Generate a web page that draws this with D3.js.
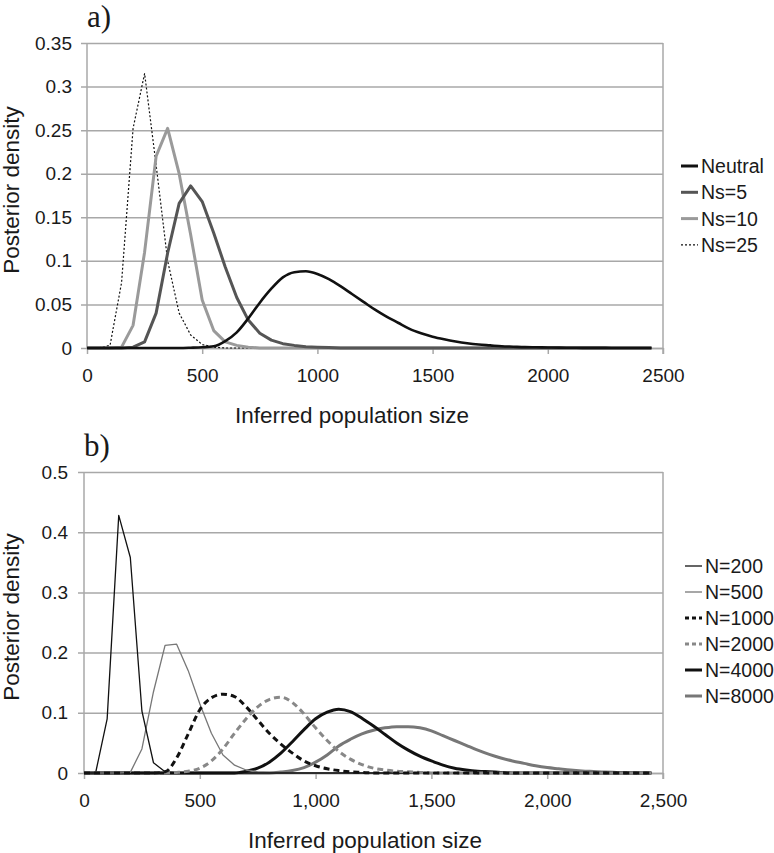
<!DOCTYPE html>
<html>
<head>
<meta charset="utf-8">
<script src="https://cdn.jsdelivr.net/npm/d3@7"></script>
<style>
  body { margin: 0; background: #fff; }
  svg { display: block; }
  text { font-family: "Liberation Sans", Arial, sans-serif; fill: #1a1a1a; }
</style>
</head>
<body>
<svg id="chart" width="774" height="853"></svg>
<script>
// ---------- DATA ----------
const xValues = [0,50,100,150,200,250,300,350,400,450,
  500,550,600,650,700,750,800,850,900,950,
  1000,1050,1100,1150,1200,1250,1300,1350,1400,1450,
  1500,1550,1600,1650,1700,1750,1800,1850,1900,1950,
  2000,2050,2100,2150,2200,2250,2300,2350,2400,2450];

// Panel a
const seriesNamesA = ["Neutral", "Ns=5", "Ns=10", "Ns=25"];
const neutral = [0,0,0,0,0,0,0,0,0,0.0003,
  0.0008,0.002,0.008,0.018,0.034,0.052,0.068,0.081,0.087,0.088,
  0.085,0.079,0.071,0.062,0.053,0.044,0.036,0.029,0.022,0.017,
  0.013,0.010,0.0075,0.0055,0.004,0.003,0.002,0.0015,0.001,0.0008,
  0.0006,0.0004,0.0003,0.0002,0.0001,0.0001,0,0,0,0];
const ns5 = [0,0,0,0,0.001,0.007,0.04,0.109,0.166,0.186,
  0.168,0.132,0.093,0.058,0.032,0.017,0.009,0.005,0.003,0.0015,
  0.001,0.0005,0,0,0,0,0,0,0,0,
  0,0,0,0,0,0,0,0,0,0,
  0,0,0,0,0,0,0,0,0,0];
const ns10 = [0,0,0,0.001,0.026,0.11,0.22,0.252,0.2,0.13,
  0.055,0.02,0.007,0.003,0.001,0,0,0,0,0,
  0,0,0,0,0,0,0,0,0,0,
  0,0,0,0,0,0,0,0,0,0,
  0,0,0,0,0,0,0,0,0,0];
const ns25 = [0,0,0.003,0.075,0.252,0.315,0.21,0.1,0.04,0.015,
  0.004,0.001,0,0,0,0,0,0,0,0,
  0,0,0,0,0,0,0,0,0,0,
  0,0,0,0,0,0,0,0,0,0,
  0,0,0,0,0,0,0,0,0,0];
const yTicksA = [0,0.05,0.1,0.15,0.2,0.25,0.3,0.35];
const xTicksA = [0,500,1000,1500,2000,2500];
const xTickLabelsA = ["0","500","1000","1500","2000","2500"];

// Panel b
const seriesNamesB = ["N=200","N=500","N=1000","N=2000","N=4000","N=8000"];
const n200 = [0,0,0.09,0.428,0.358,0.103,0.017,0.002,0,0,
  0,0,0,0,0,0,0,0,0,0,
  0,0,0,0,0,0,0,0,0,0,
  0,0,0,0,0,0,0,0,0,0,
  0,0,0,0,0,0,0,0,0,0];
const n500 = [0,0,0,0,0.001,0.04,0.135,0.212,0.214,0.17,
  0.115,0.066,0.03,0.013,0.005,0.002,0.001,0,0,0,
  0,0,0,0,0,0,0,0,0,0,
  0,0,0,0,0,0,0,0,0,0,
  0,0,0,0,0,0,0,0,0,0];
const n1000 = [0,0,0,0,0,0,0,0.002,0.025,0.065,
  0.105,0.125,0.131,0.127,0.11,0.088,0.066,0.048,0.033,0.02,
  0.012,0.007,0.004,0.002,0.001,0,0,0,0,0,
  0,0,0,0,0,0,0,0,0,0,
  0,0,0,0,0,0,0,0,0,0];
const n2000 = [0,0,0,0,0,0,0,0,0.001,0.003,
  0.008,0.02,0.04,0.066,0.09,0.11,0.122,0.126,0.117,0.098,
  0.075,0.054,0.036,0.023,0.014,0.008,0.005,0.003,0.002,0.001,
  0,0,0,0,0,0,0,0,0,0,
  0,0,0,0,0,0,0,0,0,0];
const n4000 = [0,0,0,0,0,0,0,0,0,0,
  0,0,0,0,0.003,0.008,0.018,0.033,0.052,0.072,
  0.09,0.101,0.106,0.102,0.091,0.078,0.064,0.05,0.038,0.028,
  0.02,0.013,0.008,0.005,0.003,0.002,0.001,0,0,0,
  0,0,0,0,0,0,0,0,0,0];
const n8000 = [0,0,0,0,0,0,0,0,0,0,
  0,0,0,0,0,0,0,0.0015,0.004,0.009,
  0.018,0.03,0.045,0.056,0.065,0.071,0.075,0.077,0.077,0.075,
  0.07,0.062,0.054,0.046,0.038,0.031,0.025,0.02,0.016,0.012,
  0.009,0.007,0.005,0.0035,0.0025,0.0015,0.001,0.0005,0,0];
const yTicksB = [0,0.1,0.2,0.3,0.4,0.5];
const xTicksB = [0,500,1000,1500,2000,2500];
const xTickLabelsB = ["0","500","1,000","1,500","2,000","2,500"];

// ---------- DRAW ----------
const svg = d3.select("#chart");
svg.append("rect").attr("width", 774).attr("height", 853).attr("fill", "#fff");
const gridColor = "#a8a8a8";
const tickFont = "19px";

function panel(opts) {
  const { x, y, yTicks, xTicks, xLabels, yPad, xPad, series, label, labelY, titleY, yTitleY, legend } = opts;
  const [x0, x1] = x.range();
  const [yb, yt] = y.range();
  const g = svg.append("g");

  // horizontal gridlines + y tick labels
  const yAxis = d3.axisLeft(y).tickValues(yTicks).tickSize(x1 - x0 + 6).tickPadding(yPad)
    .tickFormat(d => String(d));
  const ga = g.append("g").attr("transform", `translate(${x1},0)`).call(yAxis);
  ga.select(".domain").remove();
  ga.selectAll(".tick line").attr("stroke", gridColor).attr("stroke-width", 1.5);
  ga.selectAll(".tick text").style("font-size", tickFont).attr("fill", "#1a1a1a")
    .style("font-family", "'Liberation Sans', Arial, sans-serif");

  // x axis
  const xAxis = d3.axisBottom(x).tickValues(xTicks).tickSize(6).tickSizeOuter(0).tickPadding(xPad)
    .tickFormat((d, i) => xLabels[i]);
  const gx = g.append("g").attr("transform", `translate(0,${yb})`).call(xAxis);
  gx.select(".domain").attr("stroke", gridColor).attr("stroke-width", 1.5);
  gx.selectAll(".tick line").attr("stroke", gridColor).attr("stroke-width", 1.5);
  gx.selectAll(".tick text").style("font-size", tickFont).attr("fill", "#1a1a1a")
    .style("font-family", "'Liberation Sans', Arial, sans-serif");

  // left axis line and right border
  g.append("line").attr("x1", x0).attr("x2", x0).attr("y1", yt).attr("y2", yb)
    .attr("stroke", gridColor).attr("stroke-width", 1.5);
  g.append("line").attr("x1", x1).attr("x2", x1).attr("y1", yt).attr("y2", yb + 6)
    .attr("stroke", gridColor).attr("stroke-width", 1.5);

  // series lines
  series.forEach(s => {
    const line = d3.line().x((d, i) => x(xValues[i])).y(d => y(d)).curve(s.curve || d3.curveLinear);
    g.append("path").datum(s.values).attr("d", line).attr("fill", "none")
      .attr("stroke", s.color).attr("stroke-width", s.width)
      .attr("stroke-dasharray", s.dash || null).attr("stroke-linejoin", "round");
  });

  // panel label
  svg.append("text").attr("x", x0).attr("y", labelY).text(label)
    .style("font-family", "'Liberation Serif', 'Times New Roman', serif").style("font-size", "31px");

  // axis titles
  svg.append("text").attr("x", opts.titleX).attr("y", titleY).attr("text-anchor", "middle")
    .style("font-size", "22.5px").text("Inferred population size");
  svg.append("text").attr("transform", `translate(19,${yTitleY}) rotate(-90)`).attr("text-anchor", "middle")
    .style("font-size", "22.5px").text("Posterior density");

  // legend
  const lg = svg.append("g");
  legend.items.forEach((it, i) => {
    const cy = legend.y0 + i * legend.dy;
    lg.append("line").attr("x1", legend.x0).attr("x2", legend.x0 + 17).attr("y1", cy).attr("y2", cy)
      .attr("stroke", it.color).attr("stroke-width", it.lw).attr("stroke-dasharray", it.ldash || null);
    lg.append("text").attr("x", legend.x0 + 20).attr("y", cy).attr("dy", "0.36em")
      .style("font-size", "19.5px").text(it.name);
  });
}

const xa = d3.scaleLinear().domain([0, 2500]).range([87, 663]);
const ya = d3.scaleLinear().domain([0, 0.35]).range([348, 43]);
const seriesA = [
  { name: seriesNamesA[3], values: ns25, color: "#111", width: 1.2, dash: "2,2" },
  { name: seriesNamesA[2], values: ns10, color: "#9a9a9a", width: 3 },
  { name: seriesNamesA[1], values: ns5, color: "#555", width: 3 },
  { name: seriesNamesA[0], values: neutral, color: "#111", width: 2.6, curve: d3.curveMonotoneX }
];
panel({
  x: xa, y: ya, yTicks: yTicksA, xTicks: xTicksA, xLabels: xTickLabelsA, yPad: 9, xPad: 15,
  series: seriesA, label: "a)", labelY: 27, titleX: 352, titleY: 423, yTitleY: 190,
  legend: { x0: 681, y0: 166, dy: 26.3, items: [
    { name: seriesNamesA[0], color: "#111", lw: 3 },
    { name: seriesNamesA[1], color: "#555", lw: 3 },
    { name: seriesNamesA[2], color: "#9a9a9a", lw: 3 },
    { name: seriesNamesA[3], color: "#111", lw: 1.2, ldash: "2,2" }
  ]}
});

const xb = d3.scaleLinear().domain([0, 2500]).range([84, 663]);
const yb = d3.scaleLinear().domain([0, 0.5]).range([773, 472]);
const seriesB = [
  { name: seriesNamesB[5], values: n8000, color: "#777", width: 3, curve: d3.curveMonotoneX },
  { name: seriesNamesB[4], values: n4000, color: "#111", width: 3, curve: d3.curveMonotoneX },
  { name: seriesNamesB[1], values: n500, color: "#777", width: 1.3 },
  { name: seriesNamesB[0], values: n200, color: "#111", width: 1.3 },
  { name: seriesNamesB[3], values: n2000, color: "#888", width: 3, dash: "6,4", curve: d3.curveMonotoneX },
  { name: seriesNamesB[2], values: n1000, color: "#111", width: 3, dash: "6,4", curve: d3.curveMonotoneX }
];
panel({
  x: xb, y: yb, yTicks: yTicksB, xTicks: xTicksB, xLabels: xTickLabelsB, yPad: 10, xPad: 15,
  series: seriesB, label: "b)", labelY: 456, titleX: 365, titleY: 848, yTitleY: 617,
  legend: { x0: 685, y0: 566, dy: 26, items: [
    { name: seriesNamesB[0], color: "#111", lw: 1.3 },
    { name: seriesNamesB[1], color: "#777", lw: 1.3 },
    { name: seriesNamesB[2], color: "#111", lw: 3, ldash: "4,3" },
    { name: seriesNamesB[3], color: "#888", lw: 3, ldash: "4,3" },
    { name: seriesNamesB[4], color: "#111", lw: 3 },
    { name: seriesNamesB[5], color: "#777", lw: 3 }
  ]}
});
</script>
</body>
</html>
